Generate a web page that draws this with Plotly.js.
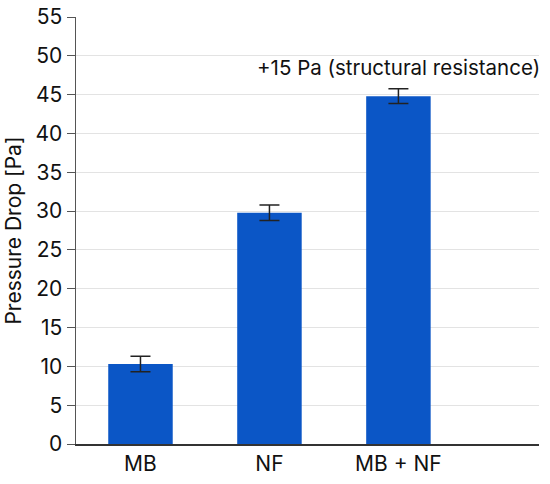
<!DOCTYPE html>
<html>
<head>
<meta charset="utf-8">
<script src="https://cdn.plot.ly/plotly-3.0.1.min.js"></script>
<style>html,body{margin:0;padding:0;background:#fff;}#chart{width:550px;height:484px;}</style>
</head>
<body>
<div id="chart"></div>
<script>
var categories = ["MB", "NF", "MB + NF"];
var pressureDrop = [10.3, 29.8, 44.8];
var errorValues = [1.0, 1.0, 0.95];
var yTickValues = [0, 5, 10, 15, 20, 25, 30, 35, 40, 45, 50, 55];
var annotationText = "+15 Pa (structural resistance)";
var yAxisTitle = "Pressure Drop [Pa]";

var fontFamily = "Inter, 'Liberation Sans', Arial, sans-serif";

var trace = {
  type: "bar",
  x: categories,
  y: pressureDrop,
  width: 0.5,
  marker: {color: "#0b56c6", line: {width: 0}},
  error_y: {type: "data", array: errorValues, visible: true, color: "#222", thickness: 1.5, width: 10},
  hoverinfo: "none"
};

var layout = {
  width: 550, height: 484,
  margin: {l: 76, r: 11, t: 17, b: 40},
  paper_bgcolor: "#fff", plot_bgcolor: "#fff",
  showlegend: false,
  font: {family: fontFamily, size: 21, color: "#111"},
  xaxis: {
    type: "category",
    range: [-0.5, 3.09],
    showgrid: false,
    showline: true, linecolor: "#333", linewidth: 1.5,
    ticks: "", tickfont: {size: 21, color: "#111"},
    fixedrange: true
  },
  yaxis: {
    range: [0, 55],
    tickvals: yTickValues,
    showgrid: true, gridcolor: "#e3e3e3", gridwidth: 1,
    zeroline: false,
    showline: true, linecolor: "#555", linewidth: 1.5,
    ticks: "outside", ticklen: 8, tickcolor: "#555", tickwidth: 1,
    tickfont: {size: 21, color: "#111"},
    title: {text: yAxisTitle, font: {size: 21, color: "#111"}, standoff: 8},
    fixedrange: true
  },
  annotations: [{
    x: 2, y: 46.6, xref: "x", yref: "y",
    text: annotationText, showarrow: false,
    yanchor: "bottom", xanchor: "center",
    font: {size: 20.5, color: "#111"}
  }]
};

Plotly.newPlot("chart", [trace], layout, {displayModeBar: false, staticPlot: true});
</script>
</body>
</html>
